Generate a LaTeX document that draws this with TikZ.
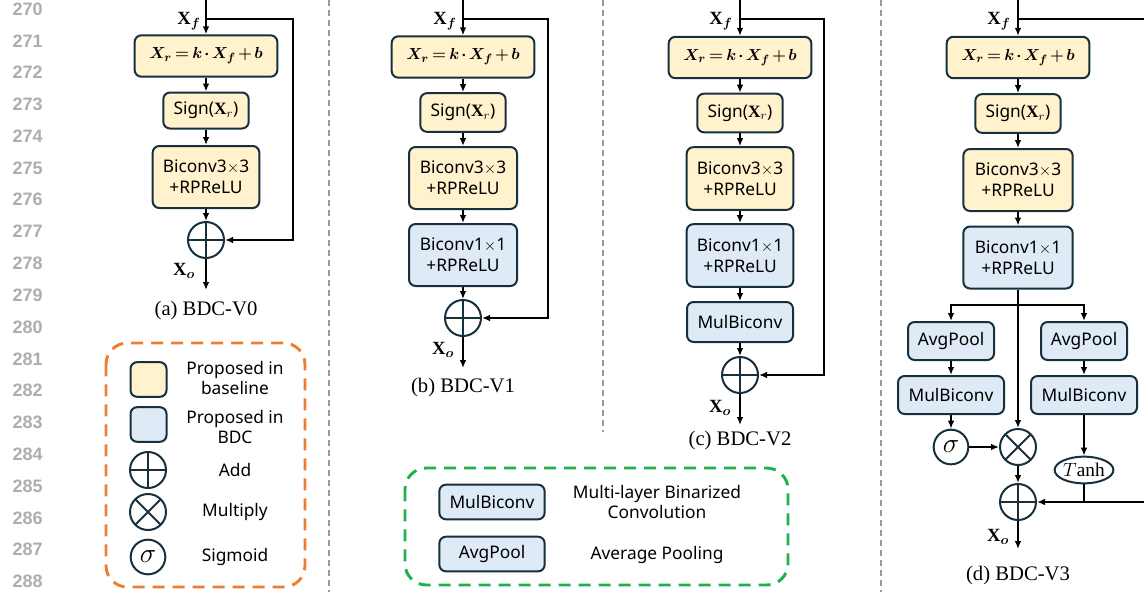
\documentclass[tikz,border=0pt]{standalone}
\usepackage{fontspec}
\setmainfont{Liberation Serif}
\setsansfont{Noto Sans}
\newfontfamily\numfont{Liberation Sans}
\usepackage{bm}
\usetikzlibrary{arrows.meta,shapes.geometric}

\definecolor{bord}{HTML}{17303E}
\definecolor{cyel}{HTML}{FFF2CC}
\definecolor{cblue}{HTML}{DEEAF6}
\definecolor{legorange}{HTML}{ED7D31}
\definecolor{leggreen}{HTML}{1DB24B}
\definecolor{sepgray}{HTML}{9A9A9A}

\newcommand{\bdceq}{$\thickmuskip=3.5mu\medmuskip=2.5mu\bm{X_r = k\cdot X_f + b}$}

\begin{document}
\begin{tikzpicture}[x=0.75pt,y=-0.75pt,
		line/.style={line width=1.5pt},
		arr/.style={line width=1.5pt,-{Latex[length=6pt,width=5pt]}},
		blk/.style={draw=bord,line width=1.5pt,rounded corners=5pt,inner sep=0pt,align=center,
			font=\sffamily\fontsize{13}{15.5}\selectfont},
		yblk/.style={blk,fill=cyel},
		bblk/.style={blk,fill=cblue},
		eqn/.style={font=\fontsize{13}{15}\selectfont},
		addop/.style={circle,draw=bord,line width=1.5pt,minimum size=27pt,inner sep=0pt,
			path picture={\draw[bord,line width=1.5pt]
				(path picture bounding box.north) -- (path picture bounding box.south)
				(path picture bounding box.west) -- (path picture bounding box.east);}},
		mulop/.style={circle,draw=bord,line width=1.5pt,minimum size=27pt,inner sep=0pt,
			path picture={\draw[bord,line width=1.5pt]
				(path picture bounding box.north west) -- (path picture bounding box.south east)
				(path picture bounding box.north east) -- (path picture bounding box.south west);}},
		sigop/.style={circle,draw=bord,line width=1.5pt,minimum size=26pt,inner sep=0pt,
			font=\fontsize{20}{22}\selectfont},
		vlabel/.style={font=\fontsize{14}{16}\selectfont,inner sep=0pt},
		caption/.style={font=\fontsize{15.5}{18}\selectfont,inner sep=0pt},
		legtext/.style={font=\sffamily\fontsize{13}{15.5}\selectfont,align=center,inner sep=0pt},
		linenum/.style={font=\numfont\bfseries\fontsize{13.5}{16}\selectfont,text=black!32,anchor=east,inner sep=0pt},
		sep/.style={draw=sepgray,line width=1.2pt,dash pattern=on 4.5pt off 3pt}]
	\useasboundingbox (0,0) rectangle (1144,592);

	\foreach \n [count=\i from 0] in {270,...,288}
		\node[linenum] (ln\n) at (43,{9+31.8*\i}) {\n};

	\draw[sep] (329,0) -- (329,592);
	\draw[sep] (603,0) -- (603,432);
	\draw[sep] (881,0) -- (881,592);

	\node[yblk,eqn,minimum width=107pt,minimum height=31pt] (a-b1) at (206,56) {\bdceq};
	\node[yblk,minimum width=64pt,minimum height=27pt] (a-sign) at (206,110.5) {Sign($\mathbf{X}_r$)};
	\node[yblk,minimum width=80pt,minimum height=46.5pt] (a-bc3) at (206,177) {Biconv3$\times$3\\+RPReLU};
	\node[addop] (a-add) at (206,240) {};
	\coordinate (a-in) at (206,0);
	\coordinate (a-sp) at (206,19);
	\coordinate (a-sk) at (293,19);
	\coordinate (a-out) at (206,290);
	\node[vlabel] (a-xf) at (189,21) {$\mathbf{X}_{\bm{f}}$};
	\node[vlabel] (a-xo) at (184,271) {$\mathbf{X}_{\bm{o}}$};
	\draw[arr] (a-in) -- (a-b1);
	\draw[arr] (a-sp) -- (a-sk) |- (a-add);
	\draw[arr] (a-b1) -- (a-sign);
	\draw[arr] (a-sign) -- (a-bc3);
	\draw[arr] (a-bc3) -- (a-add);
	\draw[arr] (a-add) -- (a-out);
	\node[caption] (a-cap) at (206,311) {(a) BDC-V0};

	\node[yblk,eqn,minimum width=107pt,minimum height=31pt] (b-b1) at (463,57) {\bdceq};
	\node[yblk,minimum width=64pt,minimum height=29pt] (b-sign) at (463,112.5) {Sign($\mathbf{X}_r$)};
	\node[yblk,minimum width=81pt,minimum height=46.5pt] (b-bc3) at (463,178) {Biconv3$\times$3\\+RPReLU};
	\node[bblk,minimum width=81pt,minimum height=46.5pt] (b-bc1) at (463,255) {Biconv1$\times$1\\+RPReLU};
	\node[addop] (b-add) at (463,318) {};
	\coordinate (b-in) at (463,0);
	\coordinate (b-sp) at (463,19);
	\coordinate (b-sk) at (548,19);
	\coordinate (b-out) at (463,368);
	\node[vlabel] (b-xf) at (445,21) {$\mathbf{X}_{\bm{f}}$};
	\node[vlabel] (b-xo) at (443,350) {$\mathbf{X}_{\bm{o}}$};
	\draw[arr] (b-in) -- (b-b1);
	\draw[arr] (b-sp) -- (b-sk) |- (b-add);
	\draw[arr] (b-b1) -- (b-sign);
	\draw[arr] (b-sign) -- (b-bc3);
	\draw[arr] (b-bc3) -- (b-bc1);
	\draw[arr] (b-bc1) -- (b-add);
	\draw[arr] (b-add) -- (b-out);
	\node[caption] (b-cap) at (463,388) {(b) BDC-V1};

	\node[yblk,eqn,minimum width=107pt,minimum height=31pt] (c-b1) at (740,57.5) {\bdceq};
	\node[yblk,minimum width=64pt,minimum height=29pt] (c-sign) at (740,113) {Sign($\mathbf{X}_r$)};
	\node[yblk,minimum width=80pt,minimum height=47pt] (c-bc3) at (740,178.5) {Biconv3$\times$3\\+RPReLU};
	\node[bblk,minimum width=80pt,minimum height=47pt] (c-bc1) at (740,255.5) {Biconv1$\times$1\\+RPReLU};
	\node[bblk,minimum width=79.5pt,minimum height=30pt] (c-mb) at (740,322) {MulBiconv};
	\node[addop] (c-add) at (740,375) {};
	\coordinate (c-in) at (740,0);
	\coordinate (c-sp) at (740,19);
	\coordinate (c-sk) at (824,19);
	\coordinate (c-out) at (740,425);
	\node[vlabel] (c-xf) at (721,21) {$\mathbf{X}_{\bm{f}}$};
	\node[vlabel] (c-xo) at (720,408) {$\mathbf{X}_{\bm{o}}$};
	\draw[arr] (c-in) -- (c-b1);
	\draw[arr] (c-sp) -- (c-sk) |- (c-add);
	\draw[arr] (c-b1) -- (c-sign);
	\draw[arr] (c-sign) -- (c-bc3);
	\draw[arr] (c-bc3) -- (c-bc1);
	\draw[arr] (c-bc1) -- (c-mb);
	\draw[arr] (c-mb) -- (c-add);
	\draw[arr] (c-add) -- (c-out);
	\node[caption] (c-cap) at (740,441) {(c) BDC-V2};

	\node[yblk,eqn,minimum width=107pt,minimum height=31pt] (d-b1) at (1018,57.5) {\bdceq};
	\node[yblk,minimum width=64pt,minimum height=29pt] (d-sign) at (1018,113.5) {Sign($\mathbf{X}_r$)};
	\node[yblk,minimum width=82pt,minimum height=46.5pt] (d-bc3) at (1018,180) {Biconv3$\times$3\\+RPReLU};
	\node[bblk,minimum width=82pt,minimum height=46.5pt] (d-bc1) at (1018,257.5) {Biconv1$\times$1\\+RPReLU};
	\node[bblk,minimum width=64.5pt,minimum height=28.5pt] (d-ap1) at (951,341) {AvgPool};
	\node[bblk,minimum width=79.5pt,minimum height=28.5pt] (d-m1) at (951,395) {MulBiconv};
	\node[sigop] (d-sig) at (951,447) {$\sigma$};
	\node[mulop] (d-mul) at (1018,447) {};
	\node[bblk,minimum width=64.5pt,minimum height=28.5pt] (d-ap2) at (1084,341) {AvgPool};
	\node[bblk,minimum width=79.5pt,minimum height=28.5pt] (d-m2) at (1084,395) {MulBiconv};
	\node[ellipse,draw=bord,line width=1.5pt,minimum width=41pt,minimum height=20pt,inner sep=0pt,
		font=\fontsize{14.5}{16}\selectfont] (d-tanh) at (1084,470) {$T$anh};
	\node[addop] (d-add) at (1018,502) {};
	\coordinate (d-in) at (1018,0);
	\coordinate (d-sp) at (1018,19);
	\coordinate (d-sk) at (1144,19);
	\coordinate (d-br) at (1018,305);
	\coordinate (d-j) at (1084,502);
	\coordinate (d-ret) at (1144,502);
	\coordinate (d-out) at (1018,549);
	\node[vlabel] (d-xf) at (999,21) {$\mathbf{X}_{\bm{f}}$};
	\node[vlabel] (d-xo) at (998,537) {$\mathbf{X}_{\bm{o}}$};
	\draw[arr] (d-in) -- (d-b1);
	\draw[line] (d-sp) -- (d-sk);
	\draw[arr] (d-b1) -- (d-sign);
	\draw[arr] (d-sign) -- (d-bc3);
	\draw[arr] (d-bc3) -- (d-bc1);
	\draw[arr] (d-bc1) -- (d-mul);
	\draw[arr] (d-br) -| (d-ap1);
	\draw[arr] (d-br) -| (d-ap2);
	\draw[arr] (d-ap1) -- (d-m1);
	\draw[arr] (d-m1) -- (d-sig);
	\draw[arr] (d-sig) -- (d-mul);
	\draw[arr] (d-ap2) -- (d-m2);
	\draw[arr] (d-m2) -- (d-tanh);
	\draw[line] (d-tanh) -- (d-j);
	\draw[arr] (d-ret) -- (d-add);
	\draw[arr] (d-mul) -- (d-add);
	\draw[arr] (d-add) -- (d-out);
	\node[caption] (d-cap) at (1018,576) {(d) BDC-V3};

	\draw[draw=legorange,line width=2.2pt,dash pattern=on 9pt off 6pt,rounded corners=16pt] (106,343) rectangle (305,587);
	\node[yblk,minimum width=27pt,minimum height=26pt] (l-yel) at (148.5,379.5) {};
	\node[bblk,minimum width=27pt,minimum height=26pt] (l-blue) at (148.5,424.5) {};
	\node[addop] (l-add) at (148,470) {};
	\node[mulop] (l-mul) at (148,512) {};
	\node[sigop] (l-sig) at (148,557) {$\sigma$};
	\node[legtext] (l-t1) at (235,378) {Proposed in\\baseline};
	\node[legtext] (l-t2) at (235,427) {Proposed in\\BDC};
	\node[legtext] (l-t3) at (235,470) {Add};
	\node[legtext] (l-t4) at (235,512) {Multiply};
	\node[legtext] (l-t5) at (235,557) {Sigmoid};

	\draw[draw=leggreen,line width=2.2pt,dash pattern=on 9pt off 6pt,rounded corners=16pt] (405,468) rectangle (788,585);
	\node[bblk,minimum width=79pt,minimum height=26pt] (g-mb) at (492,502) {MulBiconv};
	\node[bblk,minimum width=79pt,minimum height=26pt] (g-ap) at (492,554) {AvgPool};
	\node[legtext] (g-t1) at (657,502) {Multi-layer Binarized\\Convolution};
	\node[legtext] (g-t2) at (657,555) {Average Pooling};
\end{tikzpicture}
\end{document}
